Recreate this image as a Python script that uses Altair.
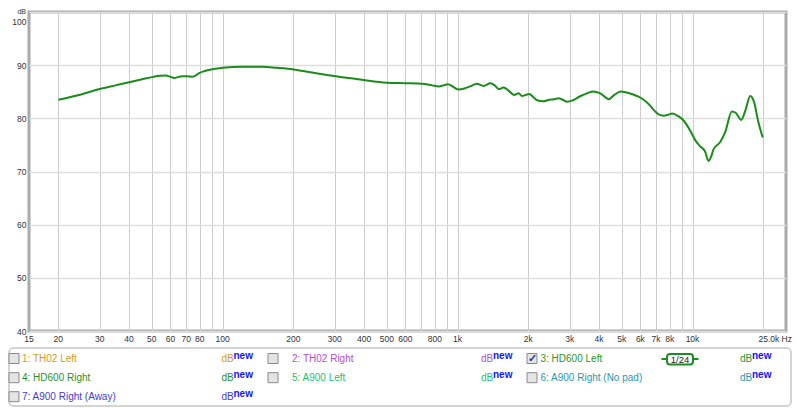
import altair as alt
import pandas as pd

# ---- frequency response (HD600 Left) ----
freq = [20, 25, 30, 35, 40, 45, 50.5, 54, 57.4, 60, 62.3, 65, 67.6, 71, 74.4, 77, 79.4, 84, 89.2,
        100, 122, 148, 170, 200, 240, 288, 330, 399, 450, 502, 600, 708, 780, 833, 870, 910, 960,
        1010, 1070, 1130, 1210, 1290, 1380, 1440, 1500, 1570, 1650, 1740, 1820, 1880, 1950, 2020,
        2100, 2180, 2320, 2450, 2580, 2700, 2800, 2930, 3100, 3340, 3550, 3800, 4050, 4400, 4650,
        4940, 5300, 5800, 6200, 6600, 6900, 7200, 7550, 7900, 8200, 8700, 9200, 9800, 10300, 10800,
        11300, 11700, 12000, 12300, 13100, 13800, 14700, 15300, 16100, 16800, 17600, 18300, 19000, 19900]
db = [83.5, 84.5, 85.5, 86.2, 86.8, 87.3, 87.8, 88.0, 88.05, 87.8, 87.6, 87.8, 87.9, 87.9, 87.8, 88.1, 88.5, 88.9, 89.2,
      89.5, 89.7, 89.7, 89.5, 89.2, 88.6, 88.05, 87.7, 87.2, 86.9, 86.7, 86.6, 86.5, 86.2, 86.0, 86.2, 86.4, 85.9,
      85.4, 85.6, 86.0, 86.5, 86.1, 86.6, 86.2, 85.5, 85.8, 85.2, 84.4, 84.7, 84.2, 84.4, 84.6,
      84.0, 83.4, 83.2, 83.5, 83.6, 83.8, 83.5, 83.1, 83.4, 84.2, 84.7, 85.05, 84.7, 83.6, 84.4,
      85.05, 84.8, 84.2, 83.5, 82.4, 81.4, 80.7, 80.5, 80.7, 80.9, 80.4, 79.5, 77.6, 75.8, 74.7,
      73.8, 72.0, 72.8, 74.2, 75.5, 77.5, 81.3, 81.0, 79.7, 81.5, 84.2, 83.0, 79.6, 76.4]

# ---- axes ----
x_tick_vals = [15, 20, 30, 40, 50, 60, 70, 80, 100, 200, 300, 400, 500, 600, 800,
               1000, 2000, 3000, 4000, 5000, 6000, 7000, 8000, 10000]
x_tick_labels = ["15", "20", "30", "40", "50", "60", "70", "80", "100", "200", "300", "400", "500", "600", "800",
                 "1k", "2k", "3k", "4k", "5k", "6k", "7k", "8k", "10k"]
x_last_val = [25000]
x_last_label = ["25.0k Hz"]
grid_vals = [20, 30, 40, 50, 60, 70, 80, 90, 100, 200, 300, 400, 500, 600, 700, 800, 900,
             1000, 2000, 3000, 4000, 5000, 6000, 7000, 8000, 9000, 10000, 20000]
y_vals = [40, 50, 60, 70, 80, 90, 100]

# ---- legend ----
legend_names = ["1: TH02 Left", "2: TH02 Right", "3: HD600 Left", "4: HD600 Right",
                "5: A900 Left", "6: A900 Right (No pad)", "7: A900 Right (Away)"]
legend_colors = ["#d49a1c", "#b04fcf", "#2a962a", "#2a8f2a", "#22c27a", "#2a98ac", "#4a3ad2"]
legend_checked = [False, False, True, False, False, False, False]

W, H = 757, 319
FONT = "Liberation Sans"

# layout (pixels relative to plot origin)
col_box_x = [-15, 244, 503]
col_label_x = [-7, 263, 511.5]
col_db_x = [192.5, 452, 711]
row_y = [346.5, 365.7, 384.7]

df = pd.DataFrame({"freq": freq, "db": db})

rows = []
for i, (n, c, chk) in enumerate(zip(legend_names, legend_colors, legend_checked)):
    col, row = i % 3, i // 3
    rows.append({"name": n, "color": c, "checked": chk,
                 "bx": col_box_x[col], "lx": col_label_x[col], "dbx": col_db_x[col],
                 "nx": col_db_x[col] + 12, "y": row_y[row], "ny": row_y[row] - 3})
leg = pd.DataFrame(rows)

xscale = alt.Scale(type="log", domain=[15, 25000], nice=False)
yscale = alt.Scale(domain=[40, 100], nice=False, zero=False)

curve = alt.Chart(df).mark_line(color="#1a8c1a", strokeWidth=2, interpolate="monotone", clip=True).encode(
    x=alt.X("freq:Q", scale=xscale,
            axis=alt.Axis(values=grid_vals, labels=False, ticks=False, domain=False, grid=True,
                          gridColor="#cdcdcd", gridWidth=1, title=None)),
    y=alt.Y("db:Q", scale=yscale,
            axis=alt.Axis(values=y_vals, ticks=False, domain=False, grid=True, gridColor="#dedede",
                          gridWidth=1.5, labelFont=FONT, labelFontSize=8.5, labelColor="#333333",
                          labelPadding=3, title=None,
                          labelBaseline={"condition": {"test": "datum.value == 100", "value": "top"},
                                         "value": "middle"},
                          labelOffset={"condition": {"test": "datum.value == 100", "value": 5},
                                       "value": 0})),
)

xlab_df = pd.DataFrame({"v": x_tick_vals, "t": x_tick_labels})
xlabels = alt.Chart(xlab_df).mark_text(font=FONT, fontSize=8.5, color="#333333", baseline="middle",
                                       align="center").encode(
    x=alt.X("v:Q", scale=xscale, axis=None),
    y=alt.value(H + 8),
    text="t:N",
)
xlast_df = pd.DataFrame({"v": x_last_val, "t": x_last_label})
xlast = alt.Chart(xlast_df).mark_text(font=FONT, fontSize=8.5, color="#333333", baseline="middle",
                                      align="right", dx=6).encode(
    x=alt.X("v:Q", scale=xscale, axis=None),
    y=alt.value(H + 8),
    text="t:N",
)

one = pd.DataFrame({"a": [0]})
dbtitle = alt.Chart(one).mark_text(font=FONT, fontSize=7, color="#333333", align="right",
                                   baseline="top").encode(
    x=alt.value(-3), y=alt.value(-3.8), text=alt.value("dB"))

box = alt.Chart(one).mark_rect(fillOpacity=0, stroke="#a8a8a8", strokeWidth=1, cornerRadius=4).encode(
    x=alt.value(-20), x2=alt.value(762), y=alt.value(336), y2=alt.value(394))

checks = alt.Chart(leg).mark_square(size=100, fill="#e4e4e4", stroke="#8a8a8a", strokeWidth=1, opacity=1).encode(
    x=alt.X("bx:Q", scale=None), y=alt.Y("y:Q", scale=None))

tick = alt.Chart(leg).transform_filter("datum.checked").mark_text(
    text="✓", fontSize=11, fontWeight="bold", color="#2b3d8f", baseline="middle", align="center").encode(
    x=alt.X("bx:Q", scale=None), y=alt.Y("y:Q", scale=None))

labels = alt.Chart(leg).mark_text(font=FONT, fontSize=10, align="left", baseline="middle").encode(
    x=alt.X("lx:Q", scale=None), y=alt.Y("y:Q", scale=None), text="name:N",
    color=alt.Color("color:N", scale=None))

dbl = alt.Chart(leg).mark_text(font=FONT, fontSize=10, align="left", baseline="middle", text="dB").encode(
    x=alt.X("dbx:Q", scale=None), y=alt.Y("y:Q", scale=None), color=alt.Color("color:N", scale=None))

newl = alt.Chart(leg).mark_text(font=FONT, fontSize=10, fontWeight="bold", align="left", baseline="middle",
                                text="new", color="#1414ff").encode(
    x=alt.X("nx:Q", scale=None), y=alt.Y("ny:Q", scale=None))

badge_lines = alt.Chart(pd.DataFrame({"x1": [632.5, 664.5], "x2": [637.5, 669.5]})).mark_rule(
    color="#1e8c1e", strokeWidth=2).encode(
    x=alt.X("x1:Q", scale=None), x2="x2:Q", y=alt.value(347))
badge = alt.Chart(one).mark_rect(fill="white", stroke="#1e8c1e", strokeWidth=2, cornerRadius=3).encode(
    x=alt.value(638), x2=alt.value(664), y=alt.value(342), y2=alt.value(352.5))
badge_t = alt.Chart(one).mark_text(font=FONT, fontSize=9.5, color="#222222", align="center",
                                   baseline="middle").encode(
    x=alt.value(651), y=alt.value(347.5), text=alt.value("1/24"))

chart = alt.layer(curve, xlabels, xlast, dbtitle, box, checks, tick, labels, dbl, newl,
                  badge_lines, badge, badge_t).resolve_scale(x="independent", y="independent").properties(
    width=W, height=H,
    autosize=alt.AutoSizeParams(type="none"),
    padding={"left": 21, "top": 4, "right": 6, "bottom": 76},
    background="white",
).configure_view(stroke="#aaaaaa", strokeWidth=3)

chart.save("out.html", embed_options={"renderer": "svg", "actions": False})
